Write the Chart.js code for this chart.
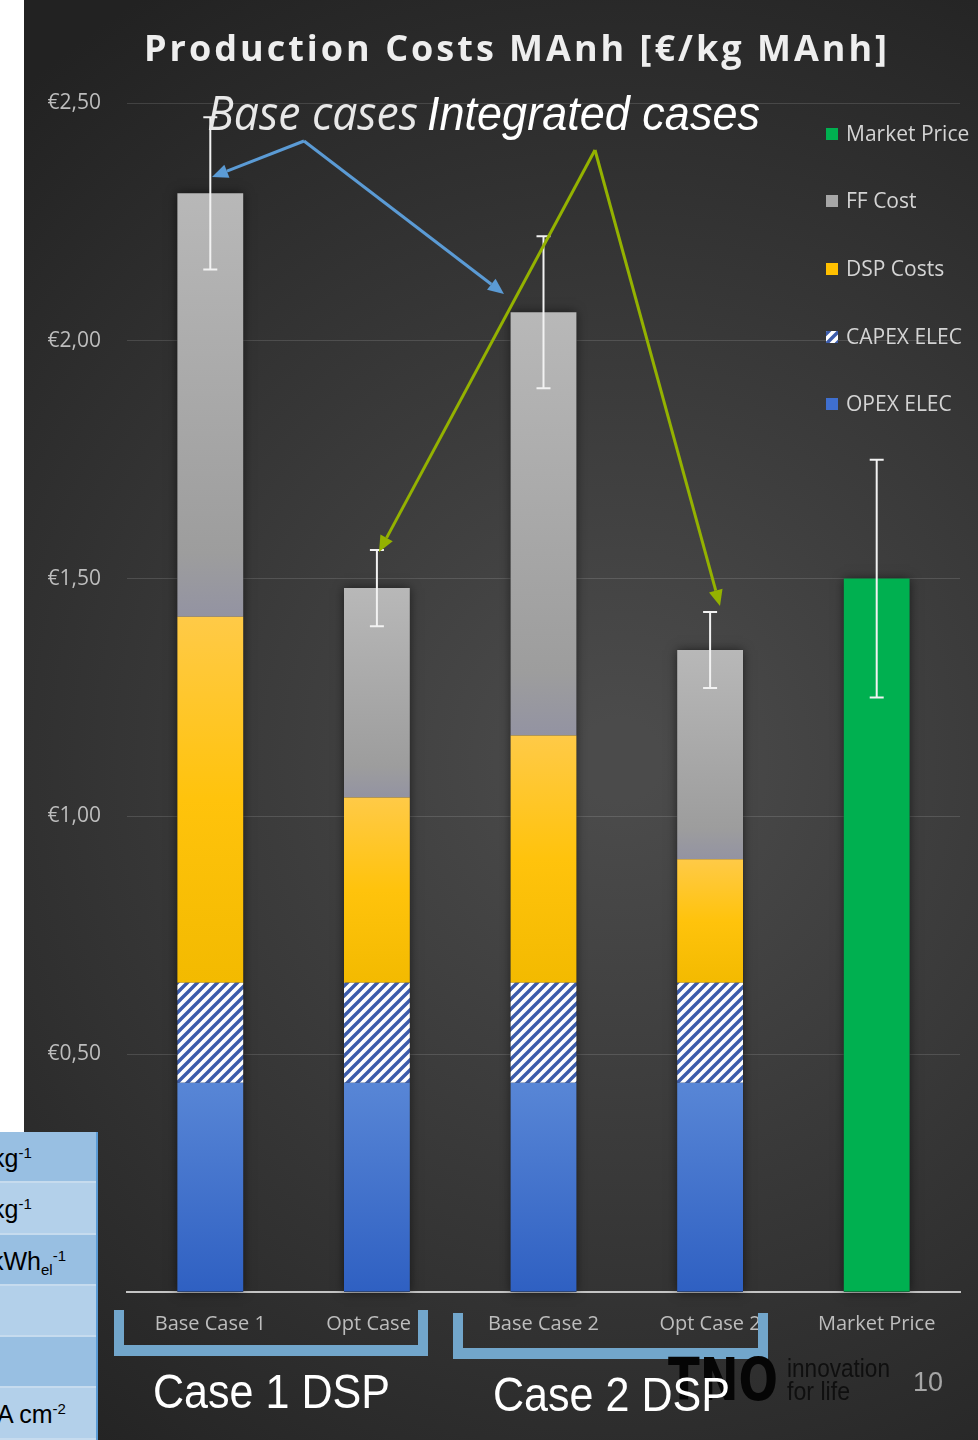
<!DOCTYPE html>
<html>
<head>
<meta charset="utf-8">
<title>Production Costs MAnh</title>
<script src="https://cdn.jsdelivr.net/npm/chart.js@4.4.1/dist/chart.umd.min.js"></script>
<style>
  html, body { margin: 0; padding: 0; background: #fff; }
  #wrap { position: relative; width: 978px; height: 1440px; overflow: hidden; }
  #costs { position: absolute; left: 0; top: 0; }
  #units {
    position: absolute; left: 0; top: 1132px; width: 96px; height: 308px;
    border-right: 2px solid #5b9bd5; overflow: hidden;
    font-family: "Liberation Sans", Arial, sans-serif; font-size: 25px; color: #000;
  }
  #units div { height: 49.3px; border-bottom: 2px solid #c6dbee; white-space: nowrap; position: relative; }
  #units div:nth-child(odd) { background: #98bfe2; }
  #units div:nth-child(even) { background: #b3d0ea; }
  #units span { position: absolute; top: 12px; }
  #units sup { font-size: 60%; vertical-align: 9px; }
  #units sub { font-size: 60%; vertical-align: -5px; }
</style>
</head>
<body>
<div id="wrap">
  <canvas id="costs" width="978" height="1440"></canvas>
  <div id="units">
    <div><span style="left:-8px">kg<sup>-1</sup></span></div>
    <div><span style="left:-8px">kg<sup>-1</sup></span></div>
    <div><span style="left:-9px">kWh<sub>el</sub><sup>-1</sup></span></div>
    <div></div>
    <div></div>
    <div><span style="left:-3px">A cm<sup>-2</sup></span></div>
  </div>
</div>
<script>
const categories = ['Base Case 1', 'Opt Case 1', 'Base Case 2', 'Opt Case 2', 'Market Price'];
const opexElec = [0.44, 0.44, 0.44, 0.44, null];
const capexElec = [0.21, 0.21, 0.21, 0.21, null];
const dspCosts = [0.77, 0.39, 0.52, 0.26, null];
const ffCost = [0.89, 0.44, 0.89, 0.44, null];
const marketPrice = [null, null, null, null, 1.50];
const errorMargin = [0.16, 0.08, 0.16, 0.08, 0.25];

const sans = '"Open Sans", "DejaVu Sans", sans-serif';
const arial = '"Liberation Sans", Arial, sans-serif';

// white/blue diagonal hatch for the CAPEX part
function hatchPattern() {
  const c = document.createElement('canvas');
  c.width = 10; c.height = 10;
  const g = c.getContext('2d');
  g.fillStyle = '#ffffff';
  g.fillRect(0, 0, 10, 10);
  g.strokeStyle = '#3c5cab';
  g.lineWidth = 3.4;
  g.beginPath();
  g.moveTo(-5, 5); g.lineTo(5, -5);
  g.moveTo(0, 10); g.lineTo(10, 0);
  g.moveTo(5, 15); g.lineTo(15, 5);
  g.stroke();
  return g.createPattern(c, 'repeat');
}
const hatch = hatchPattern();

// vertical gradient spanning a single stacked segment
function segmentGradient(stops) {
  return function (context) {
    const chart = context.chart;
    const y = chart.scales.y;
    if (!y || context.type !== 'data') return stops[0][1];
    const i = context.dataIndex;
    let base = 0;
    for (let k = 0; k < context.datasetIndex; k++) base += chart.data.datasets[k].data[i] || 0;
    const top = base + (chart.data.datasets[context.datasetIndex].data[i] || 0);
    const y0 = y.getPixelForValue(top), y1 = y.getPixelForValue(base);
    if (!isFinite(y0) || !isFinite(y1) || y0 === y1) return stops[0][1];
    const g = chart.ctx.createLinearGradient(0, y0, 0, y1);
    stops.forEach(s => g.addColorStop(s[0], s[1]));
    return g;
  };
}

function fitText(ctx, text, x, y, width, font, color) {
  ctx.save();
  ctx.font = font;
  const w = ctx.measureText(text).width;
  ctx.translate(x, y);
  ctx.scale(width / w, 1);
  ctx.fillStyle = color;
  ctx.textBaseline = 'alphabetic';
  ctx.textAlign = 'left';
  ctx.fillText(text, 0, 0);
  ctx.restore();
}

function arrow(ctx, x0, y0, x1, y1, color) {
  const a = Math.atan2(y1 - y0, x1 - x0);
  const len = 16, half = 7;
  const bx = x1 - Math.cos(a) * len, by = y1 - Math.sin(a) * len;
  ctx.save();
  ctx.strokeStyle = color;
  ctx.fillStyle = color;
  ctx.lineWidth = 3;
  ctx.beginPath();
  ctx.moveTo(x0, y0);
  ctx.lineTo(bx, by);
  ctx.stroke();
  ctx.beginPath();
  ctx.moveTo(x1, y1);
  ctx.lineTo(bx + Math.sin(a) * half, by - Math.cos(a) * half);
  ctx.lineTo(bx - Math.sin(a) * half, by + Math.cos(a) * half);
  ctx.closePath();
  ctx.fill();
  ctx.restore();
}

const slideBackground = {
  id: 'slideBackground',
  beforeDraw(chart) {
    const {ctx, width, height} = chart;
    ctx.save();
    ctx.fillStyle = '#ffffff';
    ctx.fillRect(0, 0, width, height);
    const g = ctx.createRadialGradient(620, 760, 40, 620, 760, 900);
    g.addColorStop(0, '#4b4b4b');
    g.addColorStop(1, '#222222');
    ctx.fillStyle = g;
    ctx.fillRect(24, 0, width - 24, height);
    ctx.restore();
  },
  // soft dark halo behind each stacked column
  beforeDatasetsDraw(chart) {
    const {ctx, scales: {y}} = chart;
    const metas = chart.data.datasets.map((ds, i) => chart.getDatasetMeta(i));
    ctx.save();
    ctx.shadowColor = 'rgba(0,0,0,0.55)';
    ctx.shadowBlur = 10;
    ctx.fillStyle = '#2a2a2a';
    categories.forEach((c, i) => {
      const bar = metas.map(m => m.data[i]).find((el, k) => el && chart.data.datasets[k].data[i] != null);
      if (!bar) return;
      const total = chart.data.datasets.reduce((s, ds) => s + (ds.data[i] || 0), 0);
      const top = y.getPixelForValue(total), base = y.getPixelForValue(0);
      ctx.fillRect(bar.x - bar.width / 2, top, bar.width, base - top);
    });
    ctx.restore();
  }
};

const errorBars = {
  id: 'errorBars',
  afterDatasetsDraw(chart) {
    const {ctx, scales: {x, y}} = chart;
    ctx.save();
    ctx.strokeStyle = '#f2f2f2';
    ctx.lineWidth = 2;
    categories.forEach((c, i) => {
      const total = chart.data.datasets.reduce((s, ds) => s + (ds.data[i] || 0), 0);
      const cx = x.getPixelForValue(i);
      const hi = y.getPixelForValue(total + errorMargin[i]);
      const lo = y.getPixelForValue(total - errorMargin[i]);
      ctx.beginPath();
      ctx.moveTo(cx, hi); ctx.lineTo(cx, lo);
      ctx.moveTo(cx - 7, hi); ctx.lineTo(cx + 7, hi);
      ctx.moveTo(cx - 7, lo); ctx.lineTo(cx + 7, lo);
      ctx.stroke();
    });
    ctx.restore();
  }
};

const slideDecor = {
  id: 'slideDecor',
  afterDraw(chart) {
    const ctx = chart.ctx;
    ctx.save();

    // title
    ctx.font = 'bold 36px ' + sans;
    ctx.letterSpacing = '3px';
    ctx.fillStyle = '#eeeeee';
    ctx.textAlign = 'center';
    ctx.textBaseline = 'alphabetic';
    ctx.fillText('Production Costs MAnh [€/kg MAnh]', 517, 61);
    ctx.letterSpacing = '0px';

    // legend, top entry first
    const legendColors = ['#3f6fcf', null, '#ffc000', '#a6a6a6', '#00b050'];
    const rows = [404, 337, 269, 201, 134];
    ctx.font = '21px ' + sans;
    ctx.textAlign = 'left';
    ctx.textBaseline = 'middle';
    chart.data.datasets.forEach((ds, i) => {
      const cy = rows[i];
      ctx.fillStyle = legendColors[i] || hatch;
      ctx.fillRect(826, cy - 6, 12, 12);
      ctx.fillStyle = '#d4d4d4';
      ctx.fillText(ds.label, 846, cy + 1);
    });

    // callouts
    fitText(ctx, 'Base cases', 207, 130, 211, 'italic 47px ' + sans, '#e8e8e8');
    fitText(ctx, 'Integrated cases', 427, 130, 333, 'italic 49px ' + arial, '#ffffff');
    arrow(ctx, 304, 141, 212, 177, '#5b9bd5');
    arrow(ctx, 304, 141, 504, 294, '#5b9bd5');
    arrow(ctx, 595, 150, 379, 552, '#94b200');
    arrow(ctx, 595, 150, 720, 606, '#94b200');

    // group brackets
    ctx.fillStyle = '#72a6cb';
    [[114, 428, 1310], [453, 768, 1313]].forEach(([l, r, t]) => {
      ctx.fillRect(l, t, 10, 46);
      ctx.fillRect(r - 10, t, 10, 46);
      ctx.fillRect(l, t + 35, r - l, 11);
    });

    // footer logo and page number
    fitText(ctx, 'TNO', 668, 1400, 110, 'bold 58px "DejaVu Sans", sans-serif', '#050505');
    fitText(ctx, 'innovation', 787, 1377, 103, '25px ' + arial, '#0f0f0f');
    fitText(ctx, 'for life', 787, 1400, 63, '25px ' + arial, '#0f0f0f');
    fitText(ctx, '10', 913, 1391, 30, '27px ' + arial, '#a6a6a6');

    fitText(ctx, 'Case 1 DSP', 153, 1408, 237, '49px ' + arial, '#ffffff');
    fitText(ctx, 'Case 2 DSP', 493, 1411, 237, '49px ' + arial, '#ffffff');
    ctx.restore();
  }
};

const barStyle = { barPercentage: 0.395, categoryPercentage: 1, borderWidth: 0 };

new Chart(document.getElementById('costs'), {
  type: 'bar',
  data: {
    labels: categories,
    datasets: [
      Object.assign({ label: 'OPEX ELEC', data: opexElec,
        backgroundColor: segmentGradient([[0, '#5886d6'], [1, '#2f60c2']]) }, barStyle),
      Object.assign({ label: 'CAPEX ELEC', data: capexElec, backgroundColor: hatch }, barStyle),
      Object.assign({ label: 'DSP Costs', data: dspCosts,
        backgroundColor: segmentGradient([[0, '#ffca47'], [0.5, '#ffc30c'], [1, '#f3ba00']]) }, barStyle),
      Object.assign({ label: 'FF Cost', data: ffCost,
        backgroundColor: segmentGradient([[0, '#b8b8b8'], [0.85, '#9d9d9d'], [1, '#9393a2']]) }, barStyle),
      Object.assign({ label: 'Market Price', data: marketPrice, backgroundColor: '#00b050' }, barStyle)
    ]
  },
  options: {
    responsive: false,
    animation: false,
    layout: { padding: { top: 103, right: 18, bottom: 0, left: 0 } },
    plugins: {
      legend: { display: false },
      title: { display: false },
      tooltip: { enabled: false }
    },
    scales: {
      x: {
        stacked: true,
        grid: { display: false, drawTicks: false },
        border: { display: true, color: '#c4c4c4', width: 2 },
        ticks: { color: '#bdbdbd', font: { family: sans, size: 20 }, padding: 20 },
        afterFit: s => { s.height = 148; }
      },
      y: {
        stacked: true,
        min: 0,
        max: 2.5,
        grid: { color: 'rgba(255,255,255,0.13)', drawTicks: false },
        border: { display: false },
        ticks: {
          stepSize: 0.5,
          color: '#bdbdbd',
          font: { family: sans, size: 21 },
          padding: 26,
          // the zero label sits under the units table
          callback: v => v === 0 ? '' : '€' + v.toFixed(2).replace('.', ',')
        },
        afterFit: s => { s.width = 127; }
      }
    }
  },
  plugins: [slideBackground, errorBars, slideDecor]
});
</script>
</body>
</html>
